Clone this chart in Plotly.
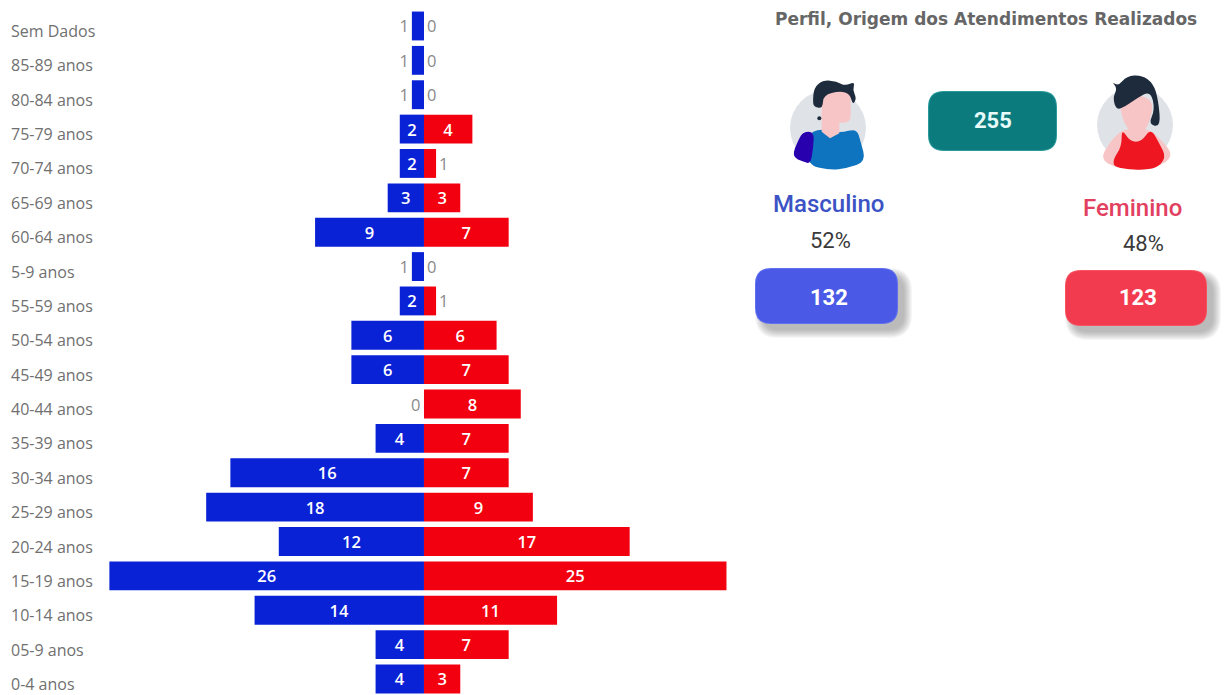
import plotly.graph_objects as go

categories = ["Sem Dados", "85-89 anos", "80-84 anos", "75-79 anos", "70-74 anos", "65-69 anos",
              "60-64 anos", "5-9 anos", "55-59 anos", "50-54 anos", "45-49 anos", "40-44 anos",
              "35-39 anos", "30-34 anos", "25-29 anos", "20-24 anos", "15-19 anos", "10-14 anos",
              "05-9 anos", "0-4 anos"]
masculino = [1, 1, 1, 2, 2, 3, 9, 1, 2, 6, 6, 0, 4, 16, 18, 12, 26, 14, 4, 4]
feminino = [0, 0, 0, 4, 1, 3, 7, 0, 1, 6, 7, 8, 7, 7, 9, 17, 25, 11, 7, 3]
total = 255
total_m = 132
total_f = 123
pct_m = "52%"
pct_f = "48%"
titulo = "Perfil, Origem dos Atendimentos Realizados"

W, H = 1232, 695
BLUE, RED = "#0a22d6", "#f2000f"
FONT = "Open Sans"
GREY = "#8a8a8a"


def bar_trace(vals, sign, color, name, hide_zero=False):
    return go.Bar(
        y=categories,
        x=[sign * v for v in vals],
        orientation="h",
        name=name,
        marker=dict(color=color, line=dict(width=0)),
        text=["" if (hide_zero and v == 0) else str(v) for v in vals],
        textposition=["inside" if v >= 2 else "outside" for v in vals],
        insidetextanchor="middle",
        constraintext="none",
        textangle=0,
        cliponaxis=False,
        textfont=dict(family=FONT, size=16.5,
                      weight=[600 if v >= 2 else 400 for v in vals],
                      color=["#ffffff" if v >= 2 else GREY for v in vals]),
        hoverinfo="y+text",
    )


fig = go.Figure([bar_trace(masculino, -1, BLUE, "Masculino", hide_zero=True),
                 bar_trace(feminino, 1, RED, "Feminino")])


def px(x):
    return x / W


def py(y):
    return 1 - y / H


def P(x, y):
    return f"{px(x):.5f},{py(y):.5f}"


def zoomed(points, smooth=True):
    pts = [(740 + x / 3, y / 3) for x, y in points]
    if not smooth:
        return "M" + " L".join(P(*p) for p in pts) + " Z"
    n = len(pts)
    mids = [((pts[i][0] + pts[(i + 1) % n][0]) / 2, (pts[i][1] + pts[(i + 1) % n][1]) / 2) for i in range(n)]
    d = "M" + P(*mids[-1])
    for i in range(n):
        d += f" Q{P(*pts[i])} {P(*mids[i])}"
    return d + " Z"


def rounded(x0, y0, x1, y1, r):
    return (f"M{P(x0 + r, y0)} L{P(x1 - r, y0)} Q{P(x1, y0)} {P(x1, y0 + r)} "
            f"L{P(x1, y1 - r)} Q{P(x1, y1)} {P(x1 - r, y1)} L{P(x0 + r, y1)} "
            f"Q{P(x0, y1)} {P(x0, y1 - r)} L{P(x0, y0 + r)} Q{P(x0, y0)} {P(x0 + r, y0)} Z")


shapes = []


def add_path(d, color, opacity=1):
    shapes.append(dict(type="path", xref="paper", yref="paper", path=d,
                       fillcolor=color, opacity=opacity, line=dict(width=0)))


def add_circle(cx, cy, r, color):
    shapes.append(dict(type="circle", xref="paper", yref="paper",
                       x0=px(cx - r), x1=px(cx + r), y0=py(cy + r), y1=py(cy - r),
                       fillcolor=color, line=dict(width=0)))


def card(x0, y0, x1, y1, color, border, shadow=True):
    if shadow:
        for grow in (7, 6, 5, 4, 3, 2, 1, 0, -1):
            add_path(rounded(x0 + 7 - grow, y0 + 7 - grow, x1 + 7 + grow, y1 + 7 + grow, 16 + max(grow, 0)),
                     "#555555", 0.055)
    add_path(rounded(x0, y0, x1, y1, 16), border)
    add_path(rounded(x0 + 1, y0 + 1, x1 - 1, y1 - 1, 15), color)


card(928, 91, 1057, 151, "#0b7b7d", "#2a9a9c", shadow=False)
card(755, 268, 898, 324, "#4a5ae6", "#5f6fee")
card(1065, 270, 1207, 326, "#f23b4f", "#f6525f")

# male avatar
SKIN = "#f8c5c6"
HAIR = "#1e2b3c"
add_circle(828, 128, 38, "#dfe3e8")
add_path(zoomed([(200, 405), (240, 385), (300, 400), (350, 385), (362, 425), (378, 485),
                 (320, 505), (270, 510), (200, 495)]), "#0f74bf")
add_path(zoomed([(155, 470), (175, 420), (190, 395), (222, 395), (220, 440), (212, 492), (190, 485)]), "#2800ae")
add_path(zoomed([(245, 340), (298, 340), (298, 400), (270, 415), (245, 395)], smooth=False), SKIN)
add_path(rounded(740 + 245 / 3, 265 / 3, 740 + 332 / 3, 368 / 3, 7), SKIN)
add_path(zoomed([(218, 310), (222, 262), (250, 240), (290, 244), (315, 258), (345, 245), (338, 270),
                 (350, 295), (338, 315), (330, 282), (300, 273), (250, 285), (248, 325), (225, 322)]), HAIR)
add_circle(740 + 238 / 3, 355 / 3, 2, HAIR)

# female avatar
add_circle(1135, 125, 38, "#dfe3e8")
add_path(zoomed([(1080, 478), (1110, 425), (1150, 385), (1225, 385), (1265, 420), (1302, 468),
                 (1250, 505), (1130, 505)]), SKIN)
add_path(zoomed([(1145, 385), (1170, 425), (1205, 425), (1232, 385), (1258, 430), (1280, 475),
                 (1240, 512), (1125, 505), (1118, 480), (1145, 440)]), "#ee1620")
add_path(zoomed([(1150, 375), (1190, 405), (1225, 385), (1245, 290), (1135, 285)]), SKIN)
add_path(zoomed([(1115, 245), (1135, 258), (1160, 228), (1205, 225), (1240, 250), (1255, 300),
                 (1262, 382), (1225, 372), (1245, 330), (1232, 272), (1190, 295), (1155, 320),
                 (1130, 330), (1118, 295), (1132, 265)]), HAIR)

# texts
annots = []


def text(x, y, s, size, color, anchor="center", family=FONT, weight=400):
    annots.append(dict(xref="paper", yref="paper", x=px(x), y=py(y), text=str(s),
                       showarrow=False, xanchor=anchor, yanchor="middle",
                       font=dict(family=family, size=size, color=color, weight=weight)))


for cat in categories:
    annots.append(dict(xref="paper", yref="y", x=px(9), y=cat, yshift=-5, text=cat, showarrow=False,
                       xanchor="left", yanchor="middle", font=dict(family=FONT, size=16, color="#707070")))

for cat, v in zip(categories, masculino):
    if v == 0:
        annots.append(dict(xref="x", yref="y", x=-v, y=cat, xshift=-2, text=str(v), showarrow=False,
                           xanchor="right", yanchor="middle", font=dict(family=FONT, size=16.5, color=GREY)))

text(986.5, 19, titulo, 17, "#666666", family="DejaVu Sans", weight=700)
text(828, 204, "Masculino", 24, "#3b53c4", family="Roboto", weight=500)
text(1132, 208, "Feminino", 24, "#e2405f", family="Roboto", weight=500)
text(830, 240, pct_m, 22, "#3a3a3a", family="Roboto")
text(1143, 243, pct_f, 22, "#3a3a3a", family="Roboto")
text(993, 121, total, 22, "#e8fbfb", family="Roboto", weight=700)
text(829, 297, total_m, 22, "#ffffff", family="Roboto", weight=700)
text(1138, 298, total_f, 22, "#ffffff", family="Roboto", weight=700)

fig.update_layout(
    width=W, height=H, autosize=False,
    margin=dict(l=0, r=0, t=0, b=0, pad=0),
    paper_bgcolor="white", plot_bgcolor="white",
    barmode="overlay", bargap=0.16, showlegend=False,
    shapes=shapes, annotations=annots,
    xaxis=dict(range=[-35.04, 66.78], visible=False, fixedrange=True),
    yaxis=dict(type="category", categoryorder="array", categoryarray=categories,
               range=[19.466, -0.756], showticklabels=False, ticks="", showgrid=False,
               zeroline=False, showline=False, fixedrange=True),
)

fig.write_html("out.html", post_script="document.body.style.margin='0';document.documentElement.style.overflow='hidden';",
               config=dict(displayModeBar=False))
